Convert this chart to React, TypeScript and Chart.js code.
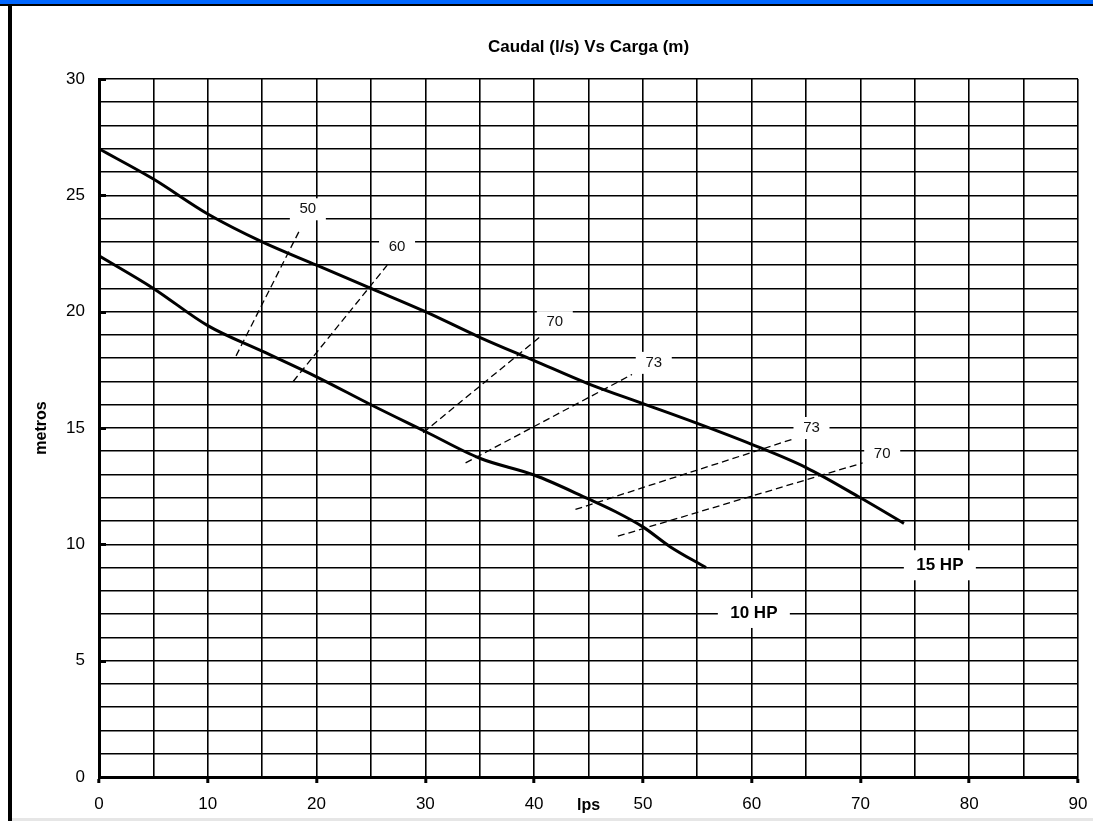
import { useEffect, useRef } from 'react';
import { Chart, registerables } from 'chart.js';

Chart.register(...registerables);

const FONT = '"Liberation Sans", Arial, Helvetica, sans-serif';

// ---- data ----
const titleText = 'Caudal (l/s) Vs Carga (m)';
const xAxisTitle = 'lps';
const yAxisTitle = 'metros';

const hp15X = [0, 5, 10, 15, 20, 25, 30, 35, 40, 45, 50, 55, 60, 65, 70, 74];
const hp15Y = [27.0, 25.7, 24.2, 23.0, 22.0, 21.0, 20.0, 18.9, 17.9, 16.9, 16.05, 15.2, 14.3, 13.3, 12.0, 10.9];

const hp10X = [0, 5, 10, 15, 20, 25, 30, 35, 40, 45, 47.5, 50, 52.5, 55.8];
const hp10Y = [22.4, 21.0, 19.4, 18.3, 17.2, 16.0, 14.85, 13.7, 12.98, 11.95, 11.4, 10.75, 9.9, 9.0];

const curveLabels = ['15 HP', '10 HP'];
const curveLabelX = [77.3, 60.2];
const curveLabelY = [9.1, 7.05];

const effLabels = ['50', '60', '70', '73', '73', '70'];
const effX1 = [12.6, 17.85, 29.8, 33.7, 43.8, 47.7];
const effY1 = [18.1, 17.0, 14.8, 13.5, 11.5, 10.35];
const effX2 = [18.5, 26.5, 40.5, 49.0, 64.3, 70.2];
const effY2 = [23.55, 22.0, 18.9, 17.3, 14.6, 13.5];
const effLabelX = [19.2, 27.4, 41.9, 51.0, 65.5, 72.0];
const effLabelY = [24.4, 22.8, 19.55, 17.8, 15.0, 13.9];

const xMin = 0, xMax = 90, xGridStep = 5, xLabelStep = 10;
const yMin = 0, yMax = 30, yGridStep = 1, yLabelStep = 5;

const toPoints = (xs: number[], ys: number[]) => xs.map((x, i) => ({ x, y: ys[i] }));

const extras = {
  id: 'extras',
  afterDatasetsDraw(chart: any) {
    const { ctx, scales } = chart;
    const xs = scales.x, ys = scales.y;
    ctx.save();
    ctx.font = `15px ${FONT}`;
    ctx.textAlign = 'center';
    ctx.textBaseline = 'middle';
    effLabels.forEach((t, i) => {
      const px = xs.getPixelForValue(effLabelX[i]);
      const py = ys.getPixelForValue(effLabelY[i]);
      ctx.fillStyle = '#fff';
      ctx.fillRect(px - 18, py - 11, 36, 22);
      ctx.fillStyle = '#111';
      ctx.fillText(t, px, py);
    });
    ctx.font = `bold 17px ${FONT}`;
    curveLabels.forEach((t, i) => {
      const px = xs.getPixelForValue(curveLabelX[i]);
      const py = ys.getPixelForValue(curveLabelY[i]);
      ctx.fillStyle = '#fff';
      ctx.fillRect(px - 36, py - 15, 72, 30);
      ctx.fillStyle = '#000';
      ctx.fillText(t, px, py);
    });
    ctx.restore();
  },
  afterDraw(chart: any) {
    const { ctx, chartArea, scales } = chart;
    const ys = scales.y;
    ctx.save();
    ctx.strokeStyle = '#000';
    ctx.lineWidth = 3;
    for (let v = yMin; v <= yMax; v += yLabelStep) {
      const py = Math.round(ys.getPixelForValue(v)) + 0.5;
      ctx.beginPath();
      ctx.moveTo(chartArea.left, py);
      ctx.lineTo(chartArea.left + 7, py);
      ctx.stroke();
    }
    ctx.fillStyle = '#000';
    ctx.textAlign = 'center';
    ctx.textBaseline = 'middle';
    ctx.font = `bold 17px ${FONT}`;
    ctx.fillText(titleText, (chartArea.left + chartArea.right) / 2, 41);
    ctx.font = `bold 16px ${FONT}`;
    ctx.fillText(xAxisTitle, (chartArea.left + chartArea.right) / 2, chartArea.bottom + 29);
    ctx.translate(30, (chartArea.top + chartArea.bottom) / 2);
    ctx.rotate(-Math.PI / 2);
    ctx.fillText(yAxisTitle, 0, 0);
    ctx.restore();
  },
};

export default function App() {
  const ref = useRef<HTMLCanvasElement | null>(null);

  useEffect(() => {
    document.body.style.margin = '0';
    if (!ref.current) return;
    const chart = new Chart(ref.current, {
      type: 'line',
      data: {
        datasets: [
          {
            label: curveLabels[0],
            data: toPoints(hp15X, hp15Y),
            borderColor: '#000',
            borderWidth: 3,
            pointRadius: 0,
            tension: 0.4,
            cubicInterpolationMode: 'monotone',
          },
          {
            label: curveLabels[1],
            data: toPoints(hp10X, hp10Y),
            borderColor: '#000',
            borderWidth: 3,
            pointRadius: 0,
            tension: 0.4,
            cubicInterpolationMode: 'monotone',
          },
          ...effLabels.map((l, i) => ({
            label: 'eff ' + l,
            data: [
              { x: effX1[i], y: effY1[i] },
              { x: effX2[i], y: effY2[i] },
            ],
            borderColor: '#000',
            borderWidth: 1.3,
            borderDash: [7, 4],
            pointRadius: 0,
            tension: 0,
          })),
        ],
      },
      options: {
        animation: false,
        responsive: false,
        devicePixelRatio: 1,
        layout: { padding: { top: 73, right: 15, left: 0, bottom: 0 } },
        plugins: {
          legend: { display: false },
          title: { display: false },
          tooltip: { enabled: false },
        },
        scales: {
          x: {
            type: 'linear',
            min: xMin,
            max: xMax,
            afterFit: (s: any) => { s.height = 41; s.paddingLeft = 0; s.paddingRight = 0; },
            ticks: {
              stepSize: xGridStep,
              autoSkip: false,
              maxRotation: 0,
              padding: 11,
              color: '#000',
              font: { family: FONT, size: 17 },
              callback: (v: any) => (Number(v) % xLabelStep === 0 ? String(v) : ''),
            },
            grid: {
              color: '#000',
              lineWidth: 1.6,
              tickLength: 6,
              tickWidth: 3,
              tickColor: (c: any) => (c.tick && c.tick.value % xLabelStep === 0 ? '#000' : 'rgba(0,0,0,0)'),
            },
            border: { color: '#000', width: 3 },
          },
          y: {
            type: 'linear',
            min: yMin,
            max: yMax,
            afterFit: (s: any) => { s.width = 87; },
            ticks: {
              stepSize: yGridStep,
              autoSkip: false,
              padding: 14,
              color: '#000',
              font: { family: FONT, size: 17 },
              callback: (v: any) => (Number(v) % yLabelStep === 0 ? String(v) : ''),
            },
            grid: {
              color: '#000',
              lineWidth: 1.6,
              drawTicks: false,
            },
            border: { color: '#000', width: 3 },
          },
        },
      },
      plugins: [extras],
    } as any);
    return () => chart.destroy();
  }, []);

  return (
    <div style={{ position: 'relative', width: 1093, height: 821, background: '#fff', overflow: 'hidden' }}>
      <div style={{ position: 'absolute', left: 0, top: 0, width: 1093, height: 4, background: '#0066ff' }} />
      <div style={{ position: 'absolute', left: 0, top: 4, width: 1093, height: 2, background: '#000' }} />
      <div style={{ position: 'absolute', left: 8, top: 4, width: 4, height: 817, background: '#000' }} />
      <div style={{ position: 'absolute', left: 12, top: 818, width: 1081, height: 3, background: '#e6e6e6' }} />
      <canvas ref={ref} width={1081} height={812} style={{ position: 'absolute', left: 12, top: 6, width: 1081, height: 812 }} />
    </div>
  );
}
